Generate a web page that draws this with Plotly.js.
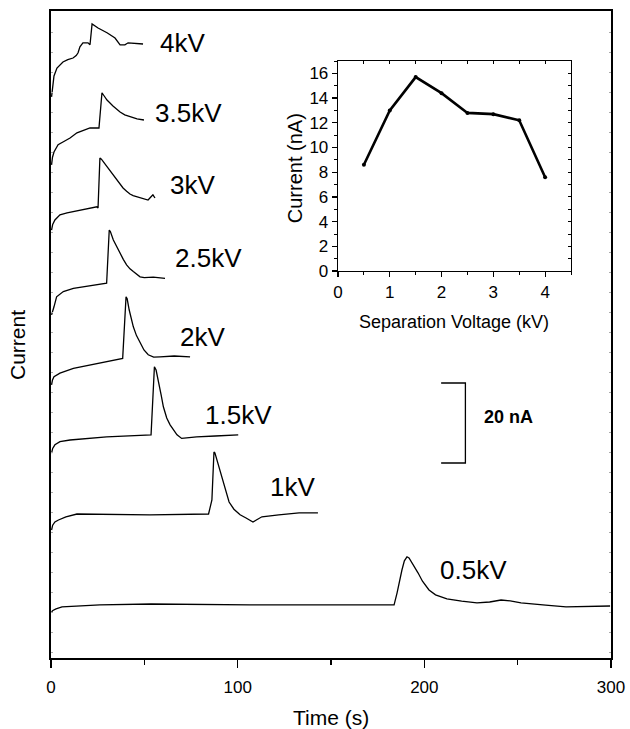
<!DOCTYPE html>
<html>
<head>
<meta charset="utf-8">
<script src="https://cdn.plot.ly/plotly-3.0.1.min.js"></script>
<style>
  html, body { margin: 0; padding: 0; background: #ffffff; }
  #chart { width: 630px; height: 729px; }
</style>
</head>
<body>
<div id="chart"></div>
<script>
// ---------------- DATA ----------------
// Electropherograms (time in s, current in nA incl. vertical stacking offset)
const t_4kV   = [0.3, 0.8, 1.6, 3.2, 6.4, 9.0, 11.8, 13.5, 14.5, 15.5, 17.1, 19.8, 20.9, 22.0, 23.5, 25.2, 30.0, 34.3, 37.0, 39.6, 41.3, 45.0, 49.3];
const i_4kV   = [140.3, 143.0, 145.5, 147.5, 149.0, 149.6, 150.0, 150.6, 151.3, 152.8, 153.8, 153.8, 153.3, 158.5, 158.0, 157.5, 156.3, 155.0, 153.3, 153.3, 153.8, 153.6, 153.5];

const t_3_5kV = [0.3, 0.8, 1.6, 3.8, 6.4, 10.2, 13.9, 20.9, 25.7, 27.3, 28.5, 30.0, 33.2, 35.0, 37.0, 39.5, 42.3, 46.1, 49.8];
const i_3_5kV = [123.3, 125.2, 126.5, 128.3, 129.0, 130.0, 131.3, 132.5, 132.5, 141.3, 140.5, 139.5, 138.0, 137.2, 136.5, 135.8, 135.3, 134.8, 134.5];

const t_3kV   = [0.3, 0.9, 2.1, 4.8, 8.6, 15.5, 24.6, 25.2, 26.2, 27.0, 28.9, 30.2, 31.6, 33.5, 35.4, 37.0, 38.6, 40.5, 42.3, 44.0, 46.1, 49.0, 52.0, 53.6, 54.6, 55.7];
const i_3kV   = [107.0, 108.4, 109.5, 110.8, 111.3, 112.0, 112.8, 112.5, 125.0, 124.7, 123.5, 122.7, 122.0, 120.8, 119.5, 118.4, 117.5, 116.7, 116.0, 115.6, 115.3, 114.8, 114.5, 115.3, 115.8, 115.0];

const t_2_5kV = [0.3, 0.8, 1.6, 3.0, 6.6, 12.0, 20.9, 29.8, 31.2, 31.8, 33.4, 35.2, 37.0, 38.8, 40.5, 42.3, 44.1, 46.0, 47.7, 50.0, 54.8, 61.1];
const i_2_5kV = [85.8, 86.9, 87.8, 90.3, 91.6, 92.4, 93.0, 93.7, 107.0, 106.6, 104.5, 102.8, 101.2, 99.6, 98.3, 97.3, 96.6, 95.8, 95.3, 95.1, 95.2, 94.9];

const t_2kV   = [0.3, 0.8, 1.6, 4.8, 12.0, 20.9, 38.4, 40.2, 40.8, 41.9, 43.0, 44.1, 45.8, 47.7, 49.8, 52.1, 55.0, 58.4, 66.0, 74.5];
const i_2kV   = [68.3, 69.5, 70.3, 71.2, 72.4, 73.3, 74.9, 90.3, 89.8, 87.0, 85.0, 82.8, 80.6, 78.7, 77.0, 75.8, 75.2, 75.3, 75.5, 75.3];

const t_1_5kV = [0.3, 0.9, 2.1, 4.8, 10.2, 29.8, 53.6, 55.4, 56.3, 57.5, 59.0, 60.2, 62.0, 63.8, 65.5, 67.5, 70.0, 72.0, 78.0, 88.0, 100.3];
const i_1_5kV = [51.2, 52.4, 53.3, 54.1, 54.5, 55.3, 55.8, 72.8, 72.0, 69.5, 65.8, 62.8, 60.0, 58.3, 57.0, 55.8, 54.9, 55.0, 55.3, 55.5, 55.8];

const t_1kV   = [0.3, 0.9, 2.1, 4.0, 8.0, 13.9, 53.0, 84.4, 86.2, 87.3, 87.8, 88.9, 90.0, 91.3, 93.0, 95.4, 98.0, 101.3, 104.5, 108.2, 110.0, 113.0, 122.0, 132.9, 143.0];
const i_1kV   = [32.0, 33.2, 34.0, 34.5, 35.3, 36.0, 35.8, 36.0, 39.5, 51.5, 51.3, 49.5, 47.8, 45.3, 42.5, 39.0, 37.2, 35.8, 35.0, 34.0, 34.5, 35.3, 35.8, 36.3, 36.3];

const t_0_5kV = [0.3, 1.0, 2.7, 5.9, 26.2, 53.6, 106.6, 150.0, 183.8, 185.4, 186.5, 188.0, 189.3, 190.7, 191.8, 193.4, 195.0, 196.6, 199.0, 202.5, 206.0, 212.1, 220.0, 228.2, 235.0, 241.1, 246.0, 251.8, 265.0, 275.9, 299.5];
const i_0_5kV = [11.5, 11.9, 12.3, 12.8, 13.3, 13.5, 13.3, 13.4, 13.3, 16.3, 19.0, 22.0, 24.3, 25.3, 25.0, 23.8, 22.6, 21.3, 19.2, 17.0, 15.8, 14.8, 14.2, 13.8, 14.0, 14.5, 14.3, 13.8, 13.2, 12.8, 13.0];

const traceLabels = ["4kV", "3.5kV", "3kV", "2.5kV", "2kV", "1.5kV", "1kV", "0.5kV"];

// Inset: peak current vs separation voltage
const sepVoltage  = [0.5, 1.0, 1.5, 2.0, 2.5, 3.0, 3.5, 4.0];
const peakCurrent = [8.6, 13.0, 15.7, 14.4, 12.8, 12.7, 12.2, 7.6];

const scaleBarNA = 20;   // scale bar height (nA)

// ---------------- LAYOUT CONFIG ----------------
const FONT = "Arial, 'Liberation Sans', Helvetica, sans-serif";
const labelPos = [ // [time of left edge, current]
  [57.3, 153.8], [54.6, 136.3], [62.7, 118.3], [65.4, 100.0],
  [68.0, 80.3], [81.4, 60.8], [116.3, 42.8], [207.3, 22.0]
];
const scaleBarPos = { x0: 209, x1: 222, yTop: 68.75 };

const series = [
  [t_4kV, i_4kV], [t_3_5kV, i_3_5kV], [t_3kV, i_3kV], [t_2_5kV, i_2_5kV],
  [t_2kV, i_2kV], [t_1_5kV, i_1_5kV], [t_1kV, i_1kV], [t_0_5kV, i_0_5kV]
];

const traces = series.map((s, k) => ({
  type: 'scatter', mode: 'lines', x: s[0], y: s[1], name: traceLabels[k],
  line: { color: '#000000', width: 1.3 }, xaxis: 'x', yaxis: 'y', hoverinfo: 'skip'
}));

traces.push({
  type: 'scatter', mode: 'lines+markers', x: sepVoltage, y: peakCurrent,
  line: { color: '#000000', width: 2.6 }, marker: { color: '#000000', size: 4 },
  xaxis: 'x2', yaxis: 'y2', hoverinfo: 'skip'
});
// empty traces so overlay axes (inset top/right) get drawn
traces.push({ type: 'scatter', x: [], y: [], xaxis: 'x3', yaxis: 'y2', hoverinfo: 'skip' });
traces.push({ type: 'scatter', x: [], y: [], xaxis: 'x2', yaxis: 'y3', hoverinfo: 'skip' });

const annotations = traceLabels.map((lab, k) => ({
  text: lab, x: labelPos[k][0], y: labelPos[k][1], xref: 'x', yref: 'y',
  xanchor: 'left', yanchor: 'middle', showarrow: false,
  font: { family: FONT, size: 26, color: '#000' }
}));

annotations.push({
  text: '<b>' + scaleBarNA + ' nA</b>', x: 230.9, y: scaleBarPos.yTop - scaleBarNA / 2 + 1.5,
  xref: 'x', yref: 'y', xanchor: 'left', yanchor: 'middle', showarrow: false,
  font: { family: FONT, size: 18, color: '#000' }
});

// axis titles
annotations.push({ text: 'Time (s)', xref: 'paper', yref: 'paper', x: 0.5, y: -0.0912,
  xanchor: 'center', yanchor: 'middle', showarrow: false, font: { family: FONT, size: 21, color: '#000' } });
annotations.push({ text: 'Current', xref: 'paper', yref: 'paper', x: -0.0589, y: 0.4838,
  xanchor: 'center', yanchor: 'middle', textangle: -90, showarrow: false, font: { family: FONT, size: 21, color: '#000' } });
annotations.push({ text: 'Separation Voltage (kV)', xref: 'paper', yref: 'paper', x: 0.7205, y: 0.5193,
  xanchor: 'center', yanchor: 'middle', showarrow: false, font: { family: FONT, size: 18, color: '#000' } });
annotations.push({ text: 'Current (nA)', xref: 'paper', yref: 'paper', x: 0.4357, y: 0.757,
  xanchor: 'center', yanchor: 'middle', textangle: -90, showarrow: false, font: { family: FONT, size: 20, color: '#000' } });

const shapes = [{
  type: 'path', xref: 'x', yref: 'y',
  path: `M ${scaleBarPos.x0} ${scaleBarPos.yTop} L ${scaleBarPos.x1} ${scaleBarPos.yTop} L ${scaleBarPos.x1} ${scaleBarPos.yTop - scaleBarNA} L ${scaleBarPos.x0} ${scaleBarPos.yTop - scaleBarNA}`,
  line: { color: '#000', width: 1.3 }
}];

const layout = {
  width: 630, height: 729,
  margin: { l: 51, r: 19, t: 11, b: 71, pad: 0 },
  paper_bgcolor: '#ffffff', plot_bgcolor: '#ffffff',
  showlegend: false,
  font: { family: FONT, color: '#000' },
  xaxis: {
    domain: [0, 1], range: [0, 300], anchor: 'y',
    showline: true, linecolor: '#000', linewidth: 2, mirror: true,
    showgrid: false, zeroline: false,
    ticks: 'outside', ticklen: 8, tickwidth: 1.5, tickcolor: '#000',
    tick0: 0, dtick: 100, ticklabelstandoff: 5,
    minor: { ticks: 'outside', dtick: 50, ticklen: 5, tickwidth: 1.5, tickcolor: '#000', showgrid: false },
    tickfont: { family: FONT, size: 17, color: '#000' }
  },
  yaxis: {
    domain: [0, 1], range: [0, 161.75], anchor: 'x',
    showline: true, linecolor: '#000', linewidth: 2, mirror: 'ticks',
    showgrid: false, zeroline: false,
    ticks: 'inside', ticklen: 2, tickwidth: 1, tickcolor: '#aaa',
    tick0: 1.5, dtick: 5, showticklabels: false
  },
  xaxis2: {
    domain: [0.5125, 0.9286], range: [0, 4.5], anchor: 'y2',
    showline: true, linecolor: '#000', linewidth: 1.3, mirror: true,
    showgrid: false, zeroline: false,
    ticks: 'outside', ticklen: 5, tickwidth: 1.2, tickcolor: '#000', dtick: 1, tick0: 0,
    minor: { ticks: 'outside', dtick: 0.5, ticklen: 3, tickwidth: 1, tickcolor: '#000', showgrid: false },
    tickfont: { family: FONT, size: 17, color: '#000' }
  },
  yaxis2: {
    domain: [0.598, 0.9227], range: [0, 17], anchor: 'x2',
    showline: true, linecolor: '#000', linewidth: 1.3, mirror: true,
    showgrid: false, zeroline: false,
    ticks: 'outside', ticklen: 5, tickwidth: 1.2, tickcolor: '#000', dtick: 2, tick0: 0,
    minor: { ticks: 'outside', dtick: 1, ticklen: 3, tickwidth: 1, tickcolor: '#000', showgrid: false },
    tickfont: { family: FONT, size: 17, color: '#000' }
  },
  xaxis3: {
    overlaying: 'x2', side: 'top', anchor: 'y2', range: [0, 4.5],
    showline: false, showgrid: false, zeroline: false, showticklabels: false,
    ticks: 'inside', ticklen: 3, tickwidth: 1, tickcolor: '#000', dtick: 0.5, tick0: 0
  },
  yaxis3: {
    overlaying: 'y2', side: 'right', anchor: 'x2', range: [0, 17],
    showline: false, showgrid: false, zeroline: false, showticklabels: false,
    ticks: 'inside', ticklen: 3, tickwidth: 1, tickcolor: '#000', dtick: 1, tick0: 0
  },
  annotations: annotations,
  shapes: shapes
};

Plotly.newPlot('chart', traces, layout, { staticPlot: true, displayModeBar: false });
</script>
</body>
</html>
